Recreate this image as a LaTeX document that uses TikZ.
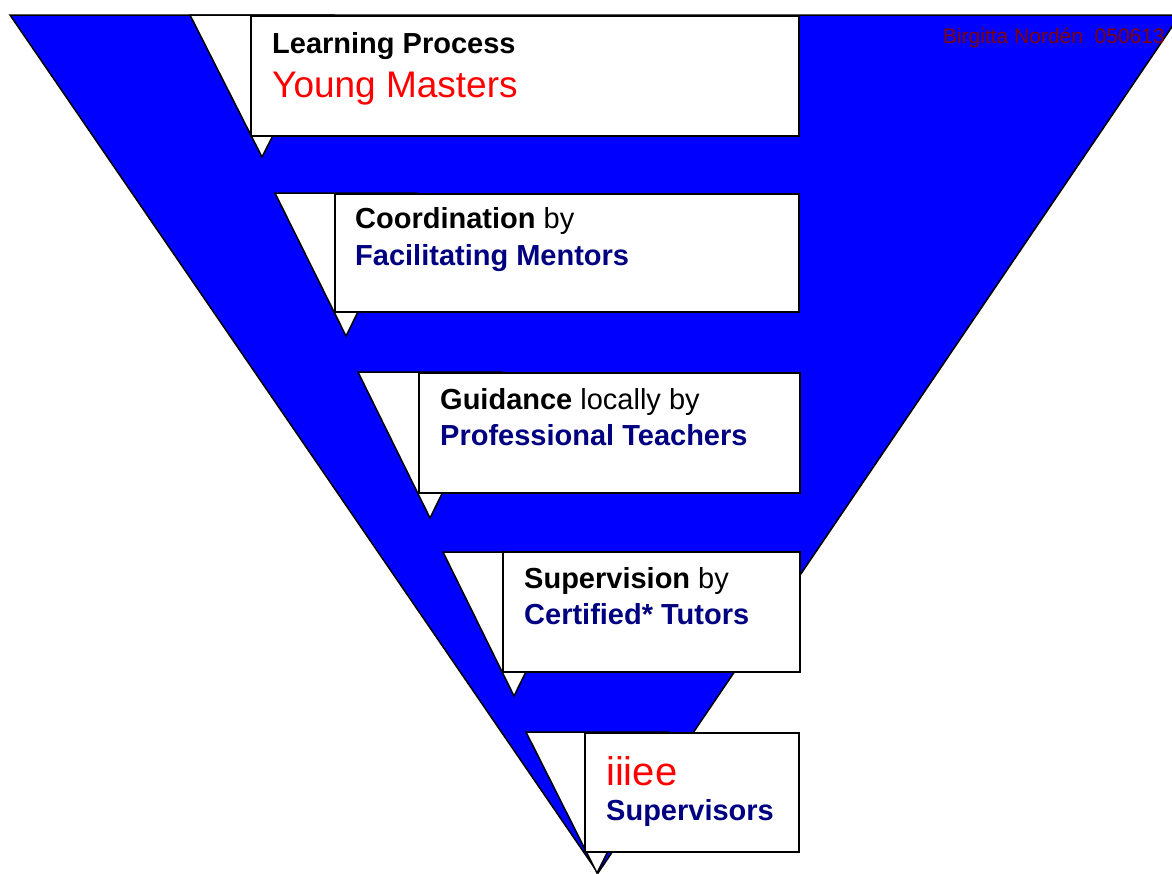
\documentclass[tikz,border=0pt]{standalone}
\usepackage{fontspec}
\setmainfont{Liberation Sans}
\definecolor{funnelblue}{HTML}{0000FF}
\definecolor{navytext}{HTML}{000080}
\definecolor{signred}{HTML}{800000}
\begin{document}
\begin{tikzpicture}[x=1pt,y=-1pt,
  funnel/.style={fill=funnelblue,draw=black,line width=1.5pt,line join=miter},
  fold/.style={fill=white,draw=black,line width=1.5pt,line join=miter},
  stagebox/.style={rectangle,fill=white,draw=black,line width=1.8pt,
    anchor=north west,inner sep=0pt},
  lead/.style={anchor=base west,inner sep=0pt,font=\fontsize{29}{34}\selectfont},
  who/.style={lead,text=navytext,font=\fontsize{29}{34}\selectfont\bfseries},
  big/.style={anchor=base west,inner sep=0pt,text=red,font=\fontsize{37}{42}\selectfont}
]
\useasboundingbox (0,0) rectangle (1172,873);

% the funnel
\begin{scope}
  \clip (0,0) rectangle (1172,874);
  \draw[funnel] (10,15) -- (1180,15) -- (598,873) -- cycle;
\end{scope}

% folded corners behind each stage
\draw[fold] (190,15) -- (334,15) -- (262,157) -- cycle;
\draw[fold] (275,193) -- (417,193) -- (346,336) -- cycle;
\draw[fold] (358,372) -- (502,372) -- (430,518) -- cycle;
\draw[fold] (443,552) -- (585,552) -- (514,696) -- cycle;
\draw[fold] (526,732) -- (668,732) -- (597,873) -- cycle;

% stage boxes
\node[stagebox,minimum width=548pt,minimum height=120pt] (box1) at (250,15) {};
\node[stagebox,minimum width=464pt,minimum height=118pt] (box2) at (334,193) {};
\node[stagebox,minimum width=381pt,minimum height=120pt] (box3) at (418,372) {};
\node[stagebox,minimum width=297pt,minimum height=120pt] (box4) at (502,551) {};
\node[stagebox,minimum width=214pt,minimum height=119pt] (box5) at (584,732) {};

% texts
\node[lead] (l1) at (272,53) {\bfseries Learning Process};
\node[big] (w1) at (272,97) {Young Masters};

\node[lead] (l2) at (355,228) {\textbf{Coordination} by};
\node[who] (w2) at (355,265) {Facilitating Mentors};

\node[lead] (l3) at (440,409) {\textbf{Guidance} locally by};
\node[who] (w3) at (440,445) {Professional Teachers};

\node[lead] (l4) at (524,588) {\textbf{Supervision} by};
\node[who] (w4) at (524,624) {Certified* Tutors};

\node[big,font=\fontsize{40}{44}\selectfont] (l5) at (606,785) {iiiee};
\node[who] (w5) at (606,820) {Supervisors};

\node[anchor=base east,inner sep=0pt,text=signred,font=\fontsize{21}{24}\selectfont]
  (sign) at (1165,43) {Birgitta Nordén\ \ 050613};
\end{tikzpicture}
\end{document}
